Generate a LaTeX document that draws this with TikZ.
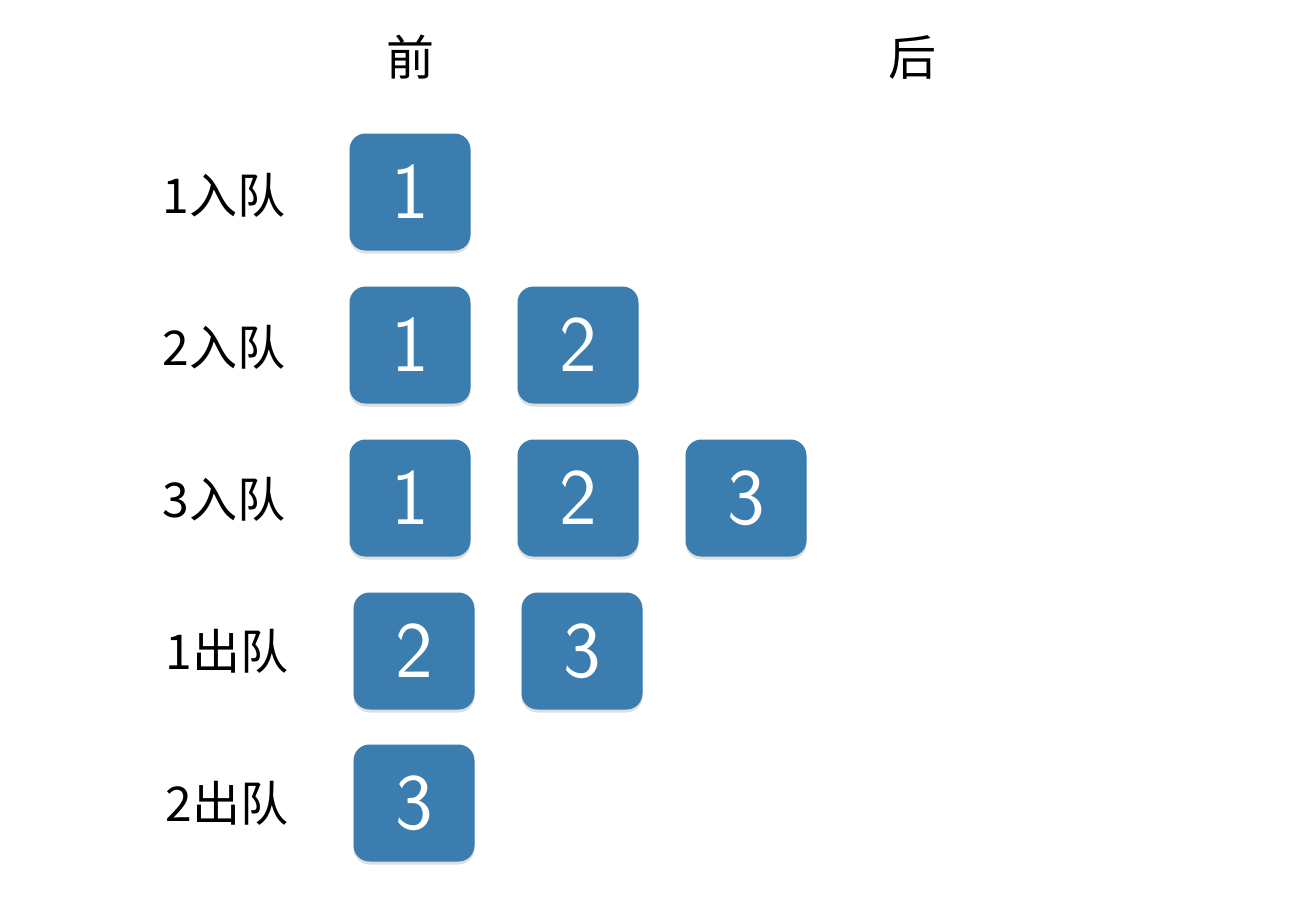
\documentclass[tikz,border=0pt]{standalone}
\usepackage{fontspec}
\setmainfont{Noto Sans CJK SC}
\usetikzlibrary{shadows}
\definecolor{qblue}{RGB}{59,125,174}
\tikzset{
  elem/.style={fill=qblue, rounded corners=8pt, minimum width=60.5pt,
    minimum height=58.5pt, inner sep=0pt, text=white,
    font=\sffamily\fontsize{40}{40}\selectfont,
    drop shadow={shadow xshift=0pt, shadow yshift=-1.5pt, opacity=0.25}},
  oplabel/.style={font=\fontsize{24}{24}\selectfont}
}
\begin{document}
\begin{tikzpicture}[x=0.5pt,y=-0.5pt]
  \useasboundingbox (0,0) rectangle (1296,916);
  \draw
    (410,57) node[oplabel] (front){前}
    (912,57) node[oplabel] (back){后};
  \draw
    (224,195) node[oplabel] (in1){1入队}
    (224,347) node[oplabel] (in2){2入队}
    (224,499) node[oplabel] (in3){3入队}
    (227,651) node[oplabel] (out1){1出队}
    (227,803) node[oplabel] (out2){2出队};
  \draw
    (410,192) node[elem] (a1){1}
    (410,345) node[elem] (b1){1}
    (578,345) node[elem] (b2){2}
    (410,498) node[elem] (c1){1}
    (578,498) node[elem] (c2){2}
    (746,498) node[elem] (c3){3}
    (414,651) node[elem] (d2){2}
    (582,651) node[elem] (d3){3}
    (414,803) node[elem] (e3){3};
\end{tikzpicture}
\end{document}
